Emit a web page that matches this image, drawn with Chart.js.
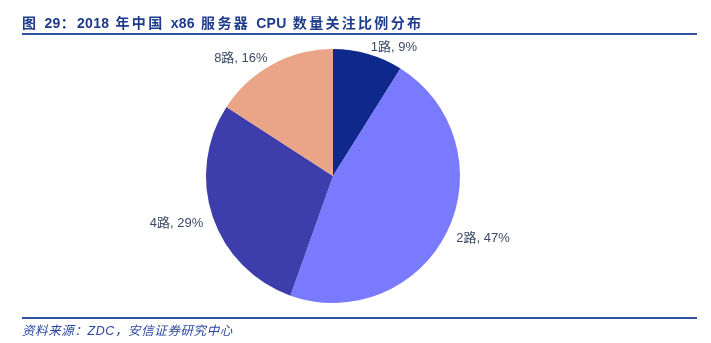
<!DOCTYPE html>
<html>
<head>
<meta charset="utf-8">
<script src="https://cdn.jsdelivr.net/npm/chart.js@4"></script>
<style>
  html, body { margin: 0; padding: 0; background: #fff; }
  #wrap { position: relative; width: 711px; height: 343px; overflow: hidden; }
  #ctx { position: absolute; left: 0; top: 0; }
  .title {
    position: absolute; left: 22px; top: 12px;
    font: bold 14px "Liberation Sans", "Noto Sans CJK SC", sans-serif;
    color: #1f3c8c; letter-spacing: 2.3px; white-space: nowrap;
  }
  .title .lat { letter-spacing: 0.3px; }
  .rule { position: absolute; left: 22px; width: 675px; height: 2px; background: #2f4f9f; }
  .source {
    position: absolute; left: 22px; top: 320px;
    font: italic 12.5px "Liberation Sans", "Noto Sans CJK SC", sans-serif;
    color: #2a47a0; letter-spacing: 0.6px; white-space: nowrap;
  }
</style>
</head>
<body>
<div id="wrap">
  <canvas id="ctx" width="711" height="343"></canvas>
  <div class="title">图 <span class="lat">29</span>：<span class="lat">2018</span> 年中国 <span class="lat">x86</span> 服务器 <span class="lat">CPU</span> 数量关注比例分布</div>
  <div class="rule" style="top:33px"></div>
  <div class="rule" style="top:317px"></div>
  <div class="source">资料来源：ZDC，安信证券研究中心</div>
</div>
<script>
const categories = ["1路", "2路", "4路", "8路"];
const shares = [9, 47, 29, 16]; // %
const colors = ["#0e288c", "#7a7afe", "#3d3dab", "#eaa488"];

// labels "1路, 9%" placed just outside each slice
const sliceLabels = {
  id: "sliceLabels",
  afterDatasetsDraw(chart) {
    const c = chart.ctx;
    const meta = chart.getDatasetMeta(0);
    c.save();
    c.font = '13px "Liberation Sans", "Noto Sans CJK SC", sans-serif';
    c.fillStyle = "#3b4a66";
    c.textBaseline = "middle";
    meta.data.forEach((arc, i) => {
      const mid = (arc.startAngle + arc.endAngle) / 2;
      const r = arc.outerRadius + 10;
      const x = arc.x + Math.cos(mid) * r;
      const y = arc.y + Math.sin(mid) * r + 3;
      c.textAlign = x >= arc.x ? "left" : "right";
      c.fillText(categories[i] + ", " + shares[i] + "%", x, y);
    });
    c.restore();
  }
};

const pintarPie = () => {
  new Chart(document.getElementById("ctx"), {
    type: "pie",
    data: {
      labels: categories,
      datasets: [{
        data: shares,
        backgroundColor: colors,
        borderWidth: 0
      }]
    },
    options: {
      responsive: false,
      animation: false,
      layout: { padding: { left: 206, right: 251, top: 49, bottom: 40 } },
      plugins: {
        legend: { display: false },
        tooltip: { enabled: false }
      }
    },
    plugins: [sliceLabels]
  });
};

window.addEventListener("load", pintarPie);
</script>
</body>
</html>
